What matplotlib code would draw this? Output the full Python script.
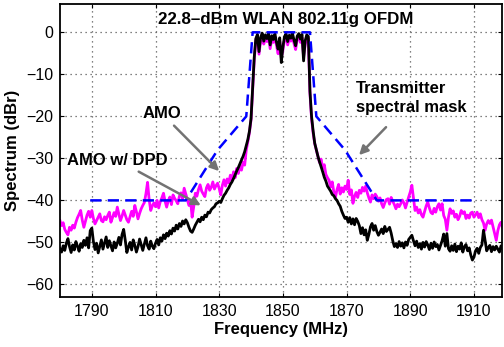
import numpy as np
import matplotlib
matplotlib.use("Agg")
import matplotlib.pyplot as plt

plt.rcParams['font.family'] = ['Liberation Sans', 'DejaVu Sans']

# frequency grid, 0.5 MHz steps
freq = np.arange(1780, 1920, 0.5)

# AMO with DPD (black)
dpd = [
    -51.5, -52.3, -50.8, -51.9, -50.2, -49.1, -51.0, -52.4, -50.6, -51.8, -49.8, -50.9, -52.1, -50.3, -51.2, -49.5, -50.7, -48.9, -51.3, -47.2,
    -46.6, -49.8, -51.7, -50.2, -52.5, -50.9, -49.4, -51.6, -50.1, -48.7, -51.2, -49.6, -50.8, -52.0, -49.9, -51.3, -50.2, -48.8, -50.6, -48.1,
    -46.9, -49.5, -52.4, -51.1, -50.0, -51.8, -49.4, -50.7, -52.3, -51.0, -49.2, -50.6, -51.9, -50.4, -48.9, -50.8, -51.6, -49.7, -50.9, -51.5,
    -50.2, -49.3, -50.6, -48.9, -49.7, -48.2, -49.1, -47.8, -48.5, -47.2, -48.0, -46.6, -47.3, -45.9, -46.8, -45.5, -46.2, -44.9, -45.6, -44.6,
    -45.3, -46.4, -47.3, -47.6, -46.8, -45.9, -45.2, -44.5, -45.1, -44.0, -44.6, -43.5, -43.9, -42.8, -43.0, -42.2, -41.8, -41.5, -40.8, -40.6,
    -40.2, -40.5, -39.6, -38.8, -38.3, -37.6, -37.0, -36.2, -35.6, -34.8, -33.9, -33.0, -32.2, -31.3, -30.4, -29.5, -28.4, -27.0, -25.5, -23.5,
    -20.5, -13.0, -6.0, -1.5, -0.5, -4.6, -1.2, -0.2, -2.1, -0.6, -1.5, -0.3, -3.0, -0.8, -1.7, -0.4, -2.4, -4.0, -1.3, -7.2,
    -3.5, -1.0, -0.4, -2.2, -0.7, -1.4, -0.2, -1.9, -3.2, -0.9, -0.3, -1.6, -0.5, -6.8, -2.0, -0.6, -1.0, -14.0, -20.0, -23.5,
    -26.4, -28.0, -29.5, -30.8, -32.0, -33.2, -34.5, -35.4, -36.6, -37.2, -37.8, -38.6, -38.9, -39.6, -40.0, -40.8, -41.4, -42.6, -43.5, -44.3,
    -44.0, -45.2, -44.1, -45.6, -44.4, -45.8, -44.3, -45.0, -46.0, -47.9, -46.5, -48.2, -47.0, -49.5, -48.1, -46.3, -45.5, -47.1, -46.0, -47.4,
    -48.3, -47.6, -46.8, -47.9, -46.2, -47.4, -46.9, -46.4, -47.8, -49.6, -51.0, -50.3, -51.2, -49.8, -50.9, -50.1, -51.3, -49.9, -50.7, -49.3,
    -48.8, -48.3, -49.6, -50.8, -49.7, -51.2, -50.3, -51.6, -50.0, -51.1, -49.8, -50.6, -51.7, -50.2, -51.4, -49.9, -51.0, -50.5, -51.8, -50.7,
    -49.6, -48.0, -50.9, -47.9, -51.5, -52.1, -50.8, -51.9, -50.4, -52.2, -50.9, -51.6, -50.1, -52.3, -51.0, -50.5, -52.0, -51.3, -53.0, -54.2,
    -53.5, -52.0, -51.4, -52.6, -51.2, -50.6, -47.1, -49.5, -52.0, -51.3, -50.7, -52.2, -51.0, -51.8, -50.9, -51.6, -52.3, -50.8, -51.5, -51.1,
]

# AMO without DPD (magenta)
amo = [
    -44.8, -46.0, -45.3, -46.9, -47.6, -48.2, -46.4, -47.1, -45.9, -46.6, -45.2, -44.1, -43.3, -42.4, -44.7, -46.4, -44.9, -43.5, -42.6, -44.0,
    -42.4, -44.3, -45.6, -44.8, -44.0, -43.2, -44.8, -45.1, -43.9, -44.6, -43.6, -42.8, -45.2, -44.1, -42.9, -43.8, -41.6, -43.3, -44.8, -43.7,
    -42.4, -43.5, -44.6, -45.2, -43.9, -42.6, -43.8, -41.2, -42.7, -44.4, -43.1, -42.0, -41.2, -40.5, -38.4, -35.7, -39.8, -42.4, -41.3, -40.6,
    -41.5, -40.0, -41.8, -40.3, -39.4, -38.3, -40.2, -41.6, -40.1, -39.2, -41.0, -38.7, -39.5, -40.1, -40.8, -39.0, -38.2, -39.6, -37.1, -38.5,
    -40.0, -41.2, -40.0, -44.0, -41.5, -38.3, -39.0, -37.4, -36.3, -37.8, -38.5, -39.1, -37.0, -36.2, -37.6, -36.9, -35.6, -37.3, -36.5, -35.9,
    -37.2, -38.7, -36.4, -35.1, -36.6, -34.9, -35.8, -34.0, -35.3, -33.2, -34.6, -32.4, -33.6, -31.9, -32.8, -30.9, -31.6, -28.0, -26.0, -23.8,
    -20.8, -13.5, -6.5, -1.8, -1.0, -5.2, -2.0, -0.6, -2.8, -1.3, -2.2, -0.8, -3.9, -1.5, -2.4, -1.0, -3.2, -5.1, -2.0, -6.0,
    -4.3, -1.8, -1.0, -3.0, -1.5, -2.1, -0.8, -2.7, -4.1, -1.6, -0.9, -2.4, -1.2, -5.8, -2.9, -1.2, -1.5, -14.5, -20.5, -24.0,
    -26.5, -28.0, -29.6, -31.0, -30.2, -32.4, -31.5, -33.8, -34.6, -35.2, -36.8, -35.6, -38.0, -39.3, -37.4, -36.2, -38.5, -37.0, -38.0, -36.6,
    -37.4, -35.2, -38.6, -37.5, -40.7, -39.0, -38.1, -39.3, -37.6, -38.3, -36.9, -37.8, -36.6, -38.2, -39.4, -40.4, -38.7, -39.6, -38.5, -39.1,
    -40.2, -39.4, -40.8, -41.7, -40.6, -39.8, -39.6, -40.9, -39.3, -40.2, -41.0, -42.0, -40.9, -41.5, -40.8, -39.9, -40.6, -41.8, -40.5, -39.2,
    -38.0, -36.4, -39.5, -42.4, -41.6, -43.0, -42.2, -43.4, -44.0, -42.6, -41.3, -40.4, -41.8, -42.9, -43.2, -41.9, -42.8, -41.5, -40.8, -42.3,
    -40.8, -43.6, -44.5, -47.1, -44.0, -42.0, -43.1, -42.5, -44.0, -43.3, -44.6, -43.8, -42.4, -43.1, -42.7, -44.3, -43.5, -44.2, -43.0, -42.8,
    -44.0, -43.4, -42.8, -44.1, -43.2, -44.6, -45.4, -47.1, -45.6, -44.8, -45.5, -44.7, -46.3, -48.0, -49.5, -47.2, -45.8, -45.2, -46.6, -45.9,
]

# transmitter spectral mask
mask_f = [1789.5, 1819.5, 1829.5, 1838.5, 1840.5, 1858.5, 1860.5, 1869.5, 1879.5, 1909.5]
mask_db = [-40, -40, -28, -20, 0, 0, -20, -28, -40, -40]

assert len(dpd) == len(freq) and len(amo) == len(freq)

fig = plt.figure(figsize=(5.04, 3.47), dpi=100)
ax = fig.add_axes([0.119, 0.144, 0.877, 0.844])

ax.plot(freq, amo, color='magenta', lw=2.0)
ax.plot(freq, dpd, color='black', lw=2.0)
ax.plot(mask_f, mask_db, color='blue', lw=1.8, dashes=(4.5, 2.5))

ax.set_xlim(1780, 1918.8)
ax.set_ylim(-63, 6.7)
ax.set_xticks(range(1790, 1911, 20))
ax.set_yticks(range(-60, 1, 10))
ax.tick_params(direction='in', top=True, right=True, labelsize=11.5, length=3, pad=5)
ax.grid(True, linestyle=(0, (1, 3)), color='0.35', lw=0.9)
for s in ax.spines.values():
    s.set_linewidth(1.3)

ax.set_xlabel('Frequency (MHz)', fontsize=12, fontweight='bold', labelpad=2)
ax.set_ylabel('Spectrum (dBr)', fontsize=12, fontweight='bold', labelpad=4)

ax.text(1851, 3.1, '22.8–dBm WLAN 802.11g OFDM', ha='center', va='center',
        fontsize=12.2, fontweight='bold')

arrow = dict(arrowstyle='-|>', color='0.45', lw=1.8, mutation_scale=13)
ax.annotate('AMO', xy=(1830.6, -33.5), xytext=(1812, -19.3), ha='center', va='center',
            fontsize=12, fontweight='bold', arrowprops=arrow)
ax.annotate('AMO w/ DPD', xy=(1825, -41.5), xytext=(1798, -30.4), ha='center', va='center',
            fontsize=12, fontweight='bold', arrowprops=arrow)
ax.annotate('Transmitter\nspectral mask', xy=(1873.3, -29.7), xytext=(1873, -15.7),
            ha='left', va='center', fontsize=12, fontweight='bold', linespacing=1.3)
ax.annotate('', xy=(1873.3, -29.7), xytext=(1883, -22.1), arrowprops=arrow)

fig.savefig('out.png', dpi=100)
